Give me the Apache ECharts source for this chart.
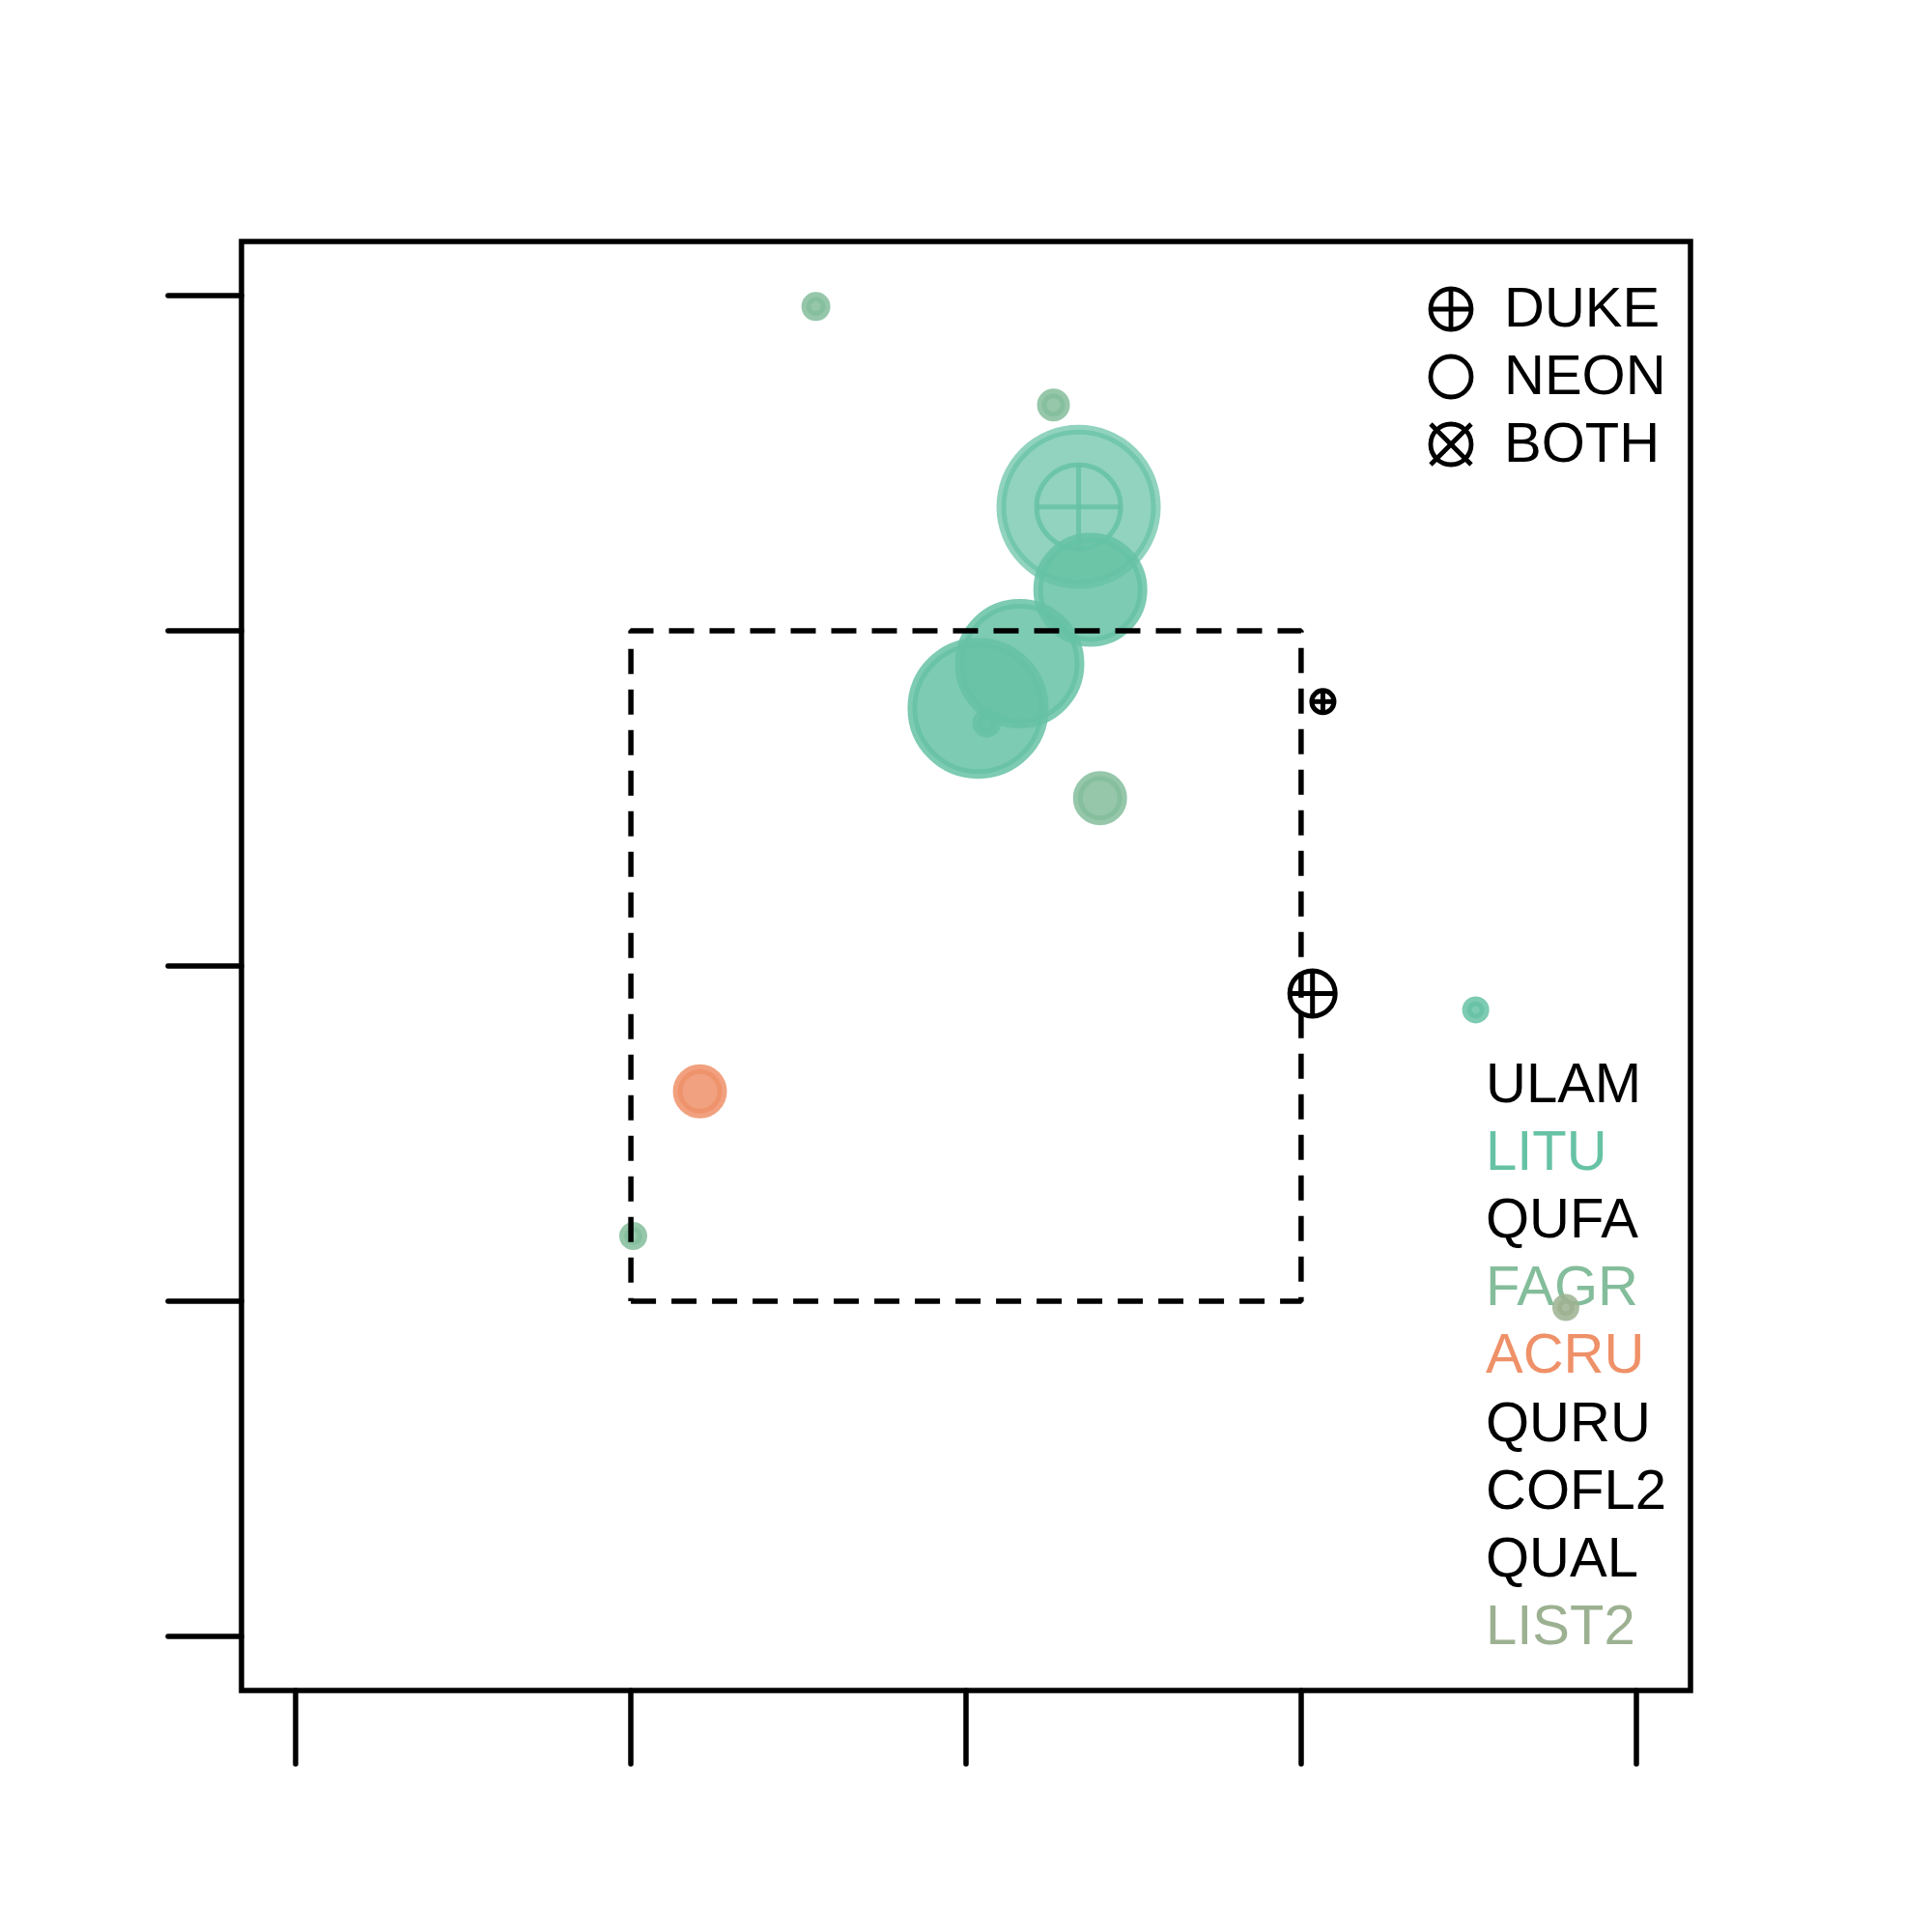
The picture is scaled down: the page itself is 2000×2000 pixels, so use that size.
<!DOCTYPE html>
<html><head><meta charset="utf-8">
<script src="https://cdn.jsdelivr.net/npm/echarts@6/dist/echarts.min.js"></script>
<style>html,body{margin:0;padding:0;background:#fff}#c{width:2000px;height:2000px}</style>
</head><body><div id="c"></div>
<script>
// ---- data ----
const pointX = [-0.448, 0.261, 0.336, 0.371, 0.160, 0.036, 0.062, 0.400, 1.521, -0.794, -0.993, 1.790];
const pointY = [1.968, 1.674, 1.370, 1.123, 0.902, 0.769, 0.725, 0.501, -0.131, -0.374, -0.806, -1.019];
const pointSize = [15, 17, 85, 59, 67, 73, 15, 28, 14, 28, 14.5, 14];
const pointSpecies = ['FAGR','FAGR','LITU','LITU','LITU','LITU','LITU','FAGR','LITU','ACRU','FAGR','LIST2'];
const pointSite = ['NEON','NEON','DUKE','NEON','NEON','NEON','NEON','NEON','NEON','NEON','NEON','NEON'];
const dukeX = [0.336, 1.065, 1.034];
const dukeY = [1.370, 0.789, -0.082];
const dukeSize = [46, 14, 26];
const dukeSpecies = ['LITU','QUFA','ULAM'];
const speciesNames = ['ULAM','LITU','QUFA','FAGR','ACRU','QURU','COFL2','QUAL','LIST2'];
const siteNames = ['DUKE','NEON','BOTH'];
const tickValues = [-2, -1, 0, 1, 2];
const boxX = [-1, 1, 1, -1, -1];
const boxY = [-1, -1, 1, 1, -1];

// ---- styles ----
const speciesColor = {ULAM:'#000000', LITU:'#66c2a5', QUFA:'#000000', FAGR:'#84bd9b', ACRU:'#ef9168',
  QURU:'#000000', COFL2:'#000000', QUAL:'#000000', LIST2:'#9cb191'};
const FONT = '"Liberation Sans", Arial, Helvetica, sans-serif';
const FS = 58;
const LW = 5.5;

const bubbleData = pointX.map((x, i) => ({
  value: [x, pointY[i], pointSize[i]],
  itemStyle: {
    color: speciesColor[pointSpecies[i]],
    borderColor: speciesColor[pointSpecies[i]],
    opacity: pointSite[i] === 'DUKE' ? 0.72 : 0.85
  }
}));
const dukeData = dukeX.map((x, i) => [x, dukeY[i], dukeSize[i], i]);
const boxData = boxX.map((x, i) => [x, boxY[i]]);

function axisCfg() {
  return {
    type: 'value', min: -2.162, max: 2.162,
    axisLine: {show: false, onZero: false},
    axisLabel: {show: false},
    splitLine: {show: false},
    axisTick: {show: true, inside: false, length: 76, customValues: tickValues,
      lineStyle: {color: '#000', width: LW, cap: 'round'}}
  };
}

const graphics = [];
// site legend
const legX = 1502, legY0 = 320, legDy = 70, legR = 21;
const sty = {stroke: '#000', lineWidth: 4.8, fill: 'none'};
siteNames.forEach((s, i) => {
  const cy = legY0 + i * legDy;
  graphics.push({type: 'circle', shape: {cx: legX, cy: cy, r: legR}, style: sty});
  if (s === 'DUKE') {
    graphics.push({type: 'line', shape: {x1: legX - legR, y1: cy, x2: legX + legR, y2: cy}, style: sty});
    graphics.push({type: 'line', shape: {x1: legX, y1: cy - legR, x2: legX, y2: cy + legR}, style: sty});
  } else if (s === 'BOTH') {
    graphics.push({type: 'line', shape: {x1: legX - legR, y1: cy - legR, x2: legX + legR, y2: cy + legR}, style: sty});
    graphics.push({type: 'line', shape: {x1: legX - legR, y1: cy + legR, x2: legX + legR, y2: cy - legR}, style: sty});
  }
  graphics.push({type: 'text', x: 1557, y: 342 + i * legDy - 20,
    style: {text: s, font: FS + 'px ' + FONT, fill: '#000', align: 'left', verticalAlign: 'middle'}});
});
// species legend
speciesNames.forEach((s, i) => {
  graphics.push({type: 'text', x: 1538, y: 1145 + i * 70.1 - 20,
    style: {text: s, font: FS + 'px ' + FONT, fill: speciesColor[s], align: 'left', verticalAlign: 'middle'}});
});

const chart = echarts.init(document.getElementById('c'), null, {renderer: 'canvas'});
chart.setOption({
  animation: false,
  backgroundColor: '#fff',
  grid: {show: true, left: 250, top: 250, width: 1500, height: 1500,
    borderColor: '#000', borderWidth: LW, backgroundColor: 'transparent'},
  xAxis: axisCfg(),
  yAxis: axisCfg(),
  graphic: {elements: graphics},
  series: [
    {
      type: 'custom', silent: true, z: 2,
      data: dukeData,
      renderItem: function (params, api) {
        const c = api.coord([api.value(0), api.value(1)]);
        const r = api.value(2) - 2.5;
        const col = speciesColor[dukeSpecies[api.value(3)]];
        const st = {stroke: col, lineWidth: 5, fill: 'none', opacity: col === '#000000' ? 1 : 0.85};
        return {type: 'group', children: [
          {type: 'circle', shape: {cx: c[0], cy: c[1], r: r}, style: st},
          {type: 'line', shape: {x1: c[0] - r, y1: c[1], x2: c[0] + r, y2: c[1]}, style: st},
          {type: 'line', shape: {x1: c[0], y1: c[1] - r, x2: c[0], y2: c[1] + r}, style: st}
        ]};
      }
    },
    {
      type: 'scatter', silent: true, z: 3,
      symbol: 'circle',
      symbolSize: function (v) { return 2 * (v[2] - 5); },
      itemStyle: {borderWidth: 10},
      data: bubbleData
    },
    {
      type: 'line', silent: true, z: 4,
      data: boxData, symbol: 'none',
      lineStyle: {color: '#000', width: LW, type: [26, 16], cap: 'butt'}
    }
  ]
});
</script></body></html>
